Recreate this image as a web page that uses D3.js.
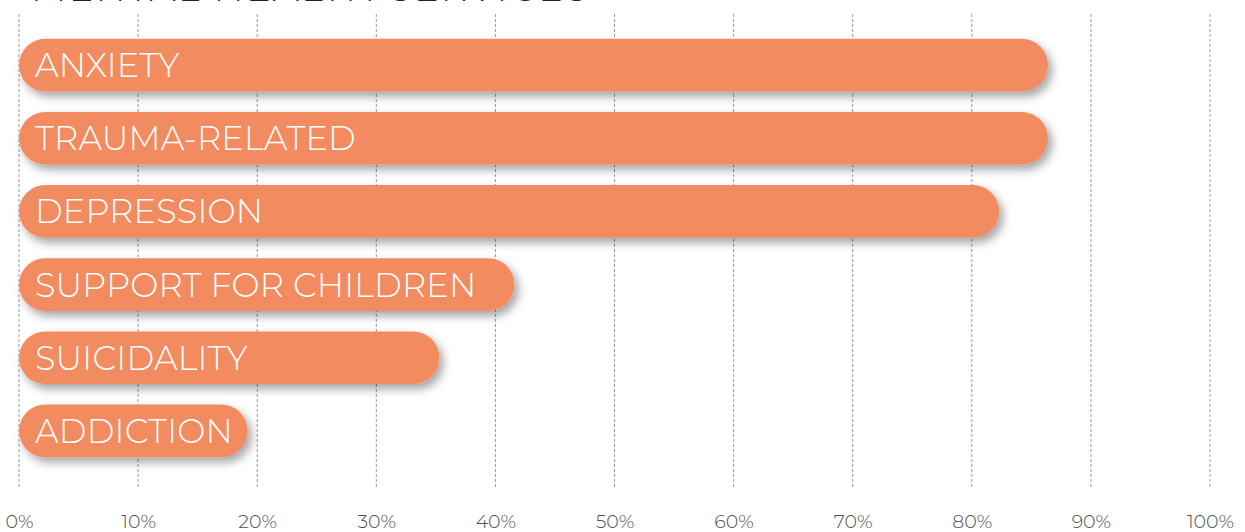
<!DOCTYPE html>
<html>
<head>
<meta charset="utf-8">
<script src="https://cdn.jsdelivr.net/npm/d3@7"></script>
<style>
  html, body { margin: 0; padding: 0; background: #fff; }
  svg { display: block; }
</style>
</head>
<body>
<svg id="chart" width="1245" height="532"></svg>
<script>
const title = "MENTAL HEALTH SERVICES";
const categories = ["ANXIETY", "TRAUMA-RELATED", "DEPRESSION", "SUPPORT FOR CHILDREN", "SUICIDALITY", "ADDICTION"];
const values = [86.4, 86.4, 82.3, 41.6, 35.3, 19.2];
const tickValues = [0, 10, 20, 30, 40, 50, 60, 70, 80, 90, 100];
const tickLabels = ["0%", "10%", "20%", "30%", "40%", "50%", "60%", "70%", "80%", "90%", "100%"];

const svg = d3.select("#chart");
const fontFam = "Montserrat, 'Open Sans', Lato, 'DejaVu Sans', sans-serif";

const x = d3.scaleLinear().domain([0, 100]).range([19, 1210]);
const y = d3.scaleBand().domain(categories).range([28.5, 467.5]).paddingInner(0.28).paddingOuter(0.14);

const defs = svg.append("defs");
const f = defs.append("filter").attr("id", "shadow")
  .attr("x", "-5%").attr("y", "-40%").attr("width", "115%").attr("height", "200%");
f.append("feDropShadow").attr("dx", 4).attr("dy", 5).attr("stdDeviation", 5)
  .attr("flood-color", "#000").attr("flood-opacity", 0.36);

// title (mostly cut off at top, as in the reference)
svg.append("text").attr("x", 31).attr("y", 1)
  .attr("font-family", fontFam).attr("font-weight", 300).attr("font-size", 37)
  .attr("letter-spacing", 2.2).attr("fill", "#222").text(title);

// gridlines
svg.append("g").selectAll("line").data(tickValues).join("line")
  .attr("x1", d => x(d)).attr("x2", d => x(d))
  .attr("y1", 14).attr("y2", 487)
  .attr("stroke", "#9a9a9a").attr("stroke-width", 1)
  .attr("stroke-dasharray", "3,2");

// axis labels
const axis = d3.axisBottom(x).tickValues(tickValues).tickSize(0)
  .tickFormat((d, i) => tickLabels[i]);
const ag = svg.append("g").attr("transform", "translate(0,508)").call(axis);
ag.select(".domain").remove();
ag.selectAll("text").attr("font-family", fontFam).attr("font-weight", 300)
  .attr("font-size", 19).attr("fill", "#505050").attr("dy", "0.9em");

// bars
const bh = y.bandwidth();
const bars = svg.append("g").selectAll("g").data(categories).join("g");
bars.append("rect")
  .attr("x", x(0)).attr("y", d => y(d))
  .attr("width", (d, i) => x(values[i]) - x(0))
  .attr("height", bh).attr("rx", bh / 2).attr("ry", bh / 2)
  .attr("fill", "#F28B5E").attr("filter", "url(#shadow)");
bars.append("text")
  .attr("x", 35).attr("y", d => y(d) + bh / 2)
  .attr("dy", "0.36em")
  .attr("font-family", fontFam).attr("font-weight", 300).attr("font-size", 33.5)
  .attr("letter-spacing", 0.2).attr("fill", "#fff").text(d => d);
</script>
</body>
</html>
